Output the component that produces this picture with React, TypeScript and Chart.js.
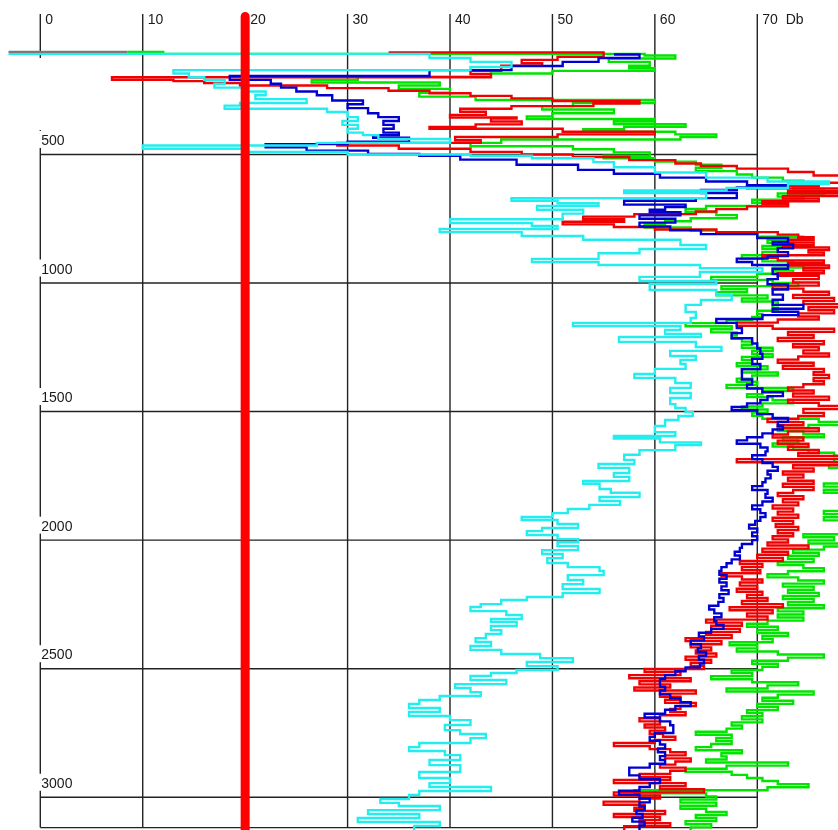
import React, { useEffect, useRef } from "react";
import { Chart, registerables } from "chart.js";

Chart.register(...registerables);

// Axis ticks and labels
const xTicks = [0, 10, 20, 30, 40, 50, 60, 70];
const xTickLabels = ["0", "10", "20", "30", "40", "50", "60", "70  Db"];
const depthTicks = [500, 1000, 1500, 2000, 2500, 3000];
const depthTickLabels = ["500", "1000", "1500", "2000", "2500", "3000"];
const depthBottom = 3118;
const gridTopDepth = -46;
const axisGapDepths = [125, 405];

// Threshold line at 20 Db
const thresholdDb = [20, 20];
const thresholdDepth = [-37, 3300];

// Common start row
const startDb = [-3.1, 8.5];
const startDepth = [101, 101];

// Cyan series
const cyanDepth = [109,109,125,140,160,172,185,200,210,225,240,255,270,285,300,310,322,335,355,370,385,400,415,425,440,455,465,478,490,500,505,515,530,550,570,590,605,615,630,640,650,670,680,690,700,715,730,752,767,778,790,802,817,832,852,868,884,906,918,930,942,957,976,992,1004,1027,1047,1066,1085,1113,1136,1155,1167,1183,1198,1210,1229,1249,1264,1284,1299,1315,1334,1354,1369,1389,1408,1428,1447,1471,1486,1502,1517,1533,1556,1580,1595,1605,1620,1630,1650,1668,1688,1704,1719,1739,1754,1770,1781,1801,1816,1832,1848,1863,1879,1895,1910,1922,1937,1953,1965,1980,1996,2008,2023,2039,2054,2070,2089,2105,2120,2136,2155,2171,2190,2206,2221,2233,2249,2260,2276,2291,2307,2318,2334,2350,2365,2381,2396,2412,2427,2443,2459,2474,2490,2505,2517,2528,2544,2560,2575,2591,2606,2622,2637,2653,2668,2684,2700,2719,2739,2754,2770,2789,2805,2820,2836,2855,2875,2902,2925,2945,2960,2976,2991,3007,3022,3034,3050,3065,3081,3096,3112,3135];
const cyanDb = [-3.1,38,42,46,42,13,14.5,16,18,17,20,22,21,26,19.5,18,28,30,31,29.5,31,30,31.5,33,40,27,10,20,30,42,48,54,56,60,65,71,77,73,67,57,65,46,50.5,54.5,48.5,53,51,40,48,50.5,39,47,53,62.5,65,58.5,54.5,48,54.5,64.4,70.5,64.4,58.5,66,59.5,66,67.5,64.5,63,64,63.5,52,62.5,61,64.5,56.5,64,66.5,61.5,64,62.5,63,60,58,62,63.5,61.5,63.5,61.5,62,63,63.7,62.3,61,60,62,56,60.5,64.5,62,58.5,57,58,54.5,57.5,56,57.5,53,54.6,55.7,58.5,54.6,56.6,53.6,51.5,50,47,50.5,52.5,49,47.5,50.5,52.5,50.5,52.5,49,51,49.5,51.5,54.6,55,51.5,53,51,54.6,51,47.5,45,43,42,45.5,47,44,46.5,44,45,43.5,42.5,44,42,45,48.8,52,47.5,50.5,46.5,44,42,45.5,40.5,42,43,39,37,36,39,36,40,42,39.5,41,43.5,42,37,36,39.5,41,38,41,37,40,38,44,37,36,33.2,35,39,32,37,31,39,36.5,37];

// Blue series
const blueDepth = [111,111,125,140,156,172,195,210,225,240,255,270,290,305,320,340,355,370,385,400,415,425,435,450,460,472,485,498,505,520,540,560,575,590,605,620,628,638,650,670,680,695,705,715,725,737,750,765,780,795,810,825,840,850,865,880,895,905,918,930,945,965,985,1005,1025,1045,1065,1085,1100,1112,1125,1140,1155,1175,1195,1215,1235,1255,1275,1295,1315,1335,1355,1375,1395,1410,1425,1440,1455,1468,1482,1495,1510,1525,1540,1555,1570,1585,1600,1612,1625,1640,1655,1670,1685,1700,1715,1730,1745,1760,1775,1790,1805,1820,1835,1850,1865,1880,1895,1910,1925,1940,1955,1970,1985,2000,2015,2030,2045,2060,2075,2090,2105,2120,2135,2150,2165,2180,2195,2210,2225,2240,2255,2270,2285,2300,2315,2330,2345,2360,2375,2390,2405,2420,2435,2450,2465,2480,2495,2510,2525,2540,2555,2570,2585,2600,2615,2630,2645,2660,2675,2690,2705,2720,2735,2750,2765,2780,2795,2810,2825,2840,2855,2870,2885,2900,2915,2930,2945,2960,2975,2990,3005,3020,3035,3050,3065,3080,3095,3110,3135];
const blueDb = [56,58.5,54.5,51,46,38,18.5,22.5,23.5,25,27,28.5,31.5,30,32,33,35,33.5,34.5,33.5,35,32.5,36,30,22,26,32,37,41,46.5,52.5,56,60.5,65,69,73,68,64.5,68,64,57,63,61,59.5,62.5,58.5,62,58.5,61.5,64.5,70,73,71.5,73.5,72,73,71,68,69.5,73,71.5,72,71,73,71.5,72.5,71.5,74.5,71.5,74,70.5,66,68,68.5,67.5,69.5,70,70.3,70.5,69.5,70.3,68.5,68.5,69.5,69,70.5,72.5,71,70.3,69,67.5,70,71.5,73,72,72.5,71.5,70.5,69,68,70.3,71,70.8,69.5,70.5,71.5,72,71,71.3,70.8,70.5,69.5,71,70.8,71.5,70.5,69.5,70.3,70.8,70.3,69.8,69.2,70,69.5,70,69.5,68.5,68.3,67.8,68.3,67.5,67,66.5,66.3,67,66.3,67,66.5,67.2,66.3,66.7,66.2,65.3,65.8,66.5,65.8,66,66.7,65.5,64.3,64.8,63.5,64.5,64.2,65,64.3,64.8,64.4,63,62,61,60.5,60.5,61,60.5,61.5,62.5,63.5,62,61,59,60.5,61.5,61.8,61.8,60,59.5,60.5,61,60.3,61,60.5,61,59.5,57.5,57.5,58.5,60.5,59.5,58.5,56.5,58.5,59.5,58.5,59,58.2,58.8,57.8,59,58.5,58.5];

// Red series
const redDepth = [103,103,120,132,145,155,175,187,200,210,215,222,232,242,252,262,272,282,292,302,312,322,334,346,356,360,372,383,393,400,412,422,432,445,455,465,478,490,500,510,522,535,545,555,568,582,595,610,622,632,642,652,662,672,682,692,702,712,722,732,742,752,762,772,782,792,802,812,822,832,842,852,862,872,882,892,902,912,922,932,942,952,962,972,985,998,1010,1022,1034,1046,1058,1070,1082,1094,1106,1118,1130,1142,1154,1166,1178,1190,1202,1214,1226,1238,1250,1262,1274,1286,1298,1310,1322,1334,1346,1358,1370,1382,1394,1406,1418,1430,1442,1454,1466,1478,1490,1505,1517,1529,1541,1553,1565,1577,1589,1601,1613,1625,1637,1649,1661,1673,1685,1697,1709,1721,1733,1745,1757,1769,1781,1793,1805,1817,1829,1841,1853,1865,1877,1889,1901,1913,1925,1937,1949,1961,1973,1985,1997,2009,2021,2033,2045,2057,2069,2081,2093,2105,2117,2129,2141,2153,2165,2177,2189,2201,2213,2225,2237,2249,2261,2273,2285,2297,2309,2321,2333,2345,2357,2369,2381,2393,2405,2417,2429,2441,2453,2465,2477,2489,2501,2513,2525,2537,2549,2561,2573,2585,2597,2609,2621,2633,2645,2657,2669,2681,2693,2705,2717,2729,2741,2753,2765,2777,2789,2801,2813,2825,2837,2849,2861,2873,2885,2897,2909,2921,2933,2945,2957,2969,2981,2993,3005,3017,3029,3041,3053,3065,3077,3089,3101,3113,3135];
const redDb = [34,55,50.5,47,49,45,42,44,7,13,16,19.5,28,34,38,42,46,50,58.5,54,46,41,43.5,40,46.5,44,47,42.5,38,51,60,50.5,40.5,43,29,35,42,47,52,57.5,62,64.5,68,73,75.5,78.5,80,76,69,78,73,78.5,72.5,76,70.5,73,69,66,64,58,53,57,51,56,60,66,72,74,75.5,73,75.5,72.5,77,75,76.5,70.5,72,76.5,73,77,74.5,76.5,72,76,73.5,76,71.5,74.5,77,73.5,77.5,74.5,78,75,77.5,74,76,72,68,71.5,77.5,73,75.5,72,76.5,73.5,76,74.5,77,74,72,75.5,72.5,76.5,75.5,77,75.5,76.5,74.5,73,75.5,73.5,77,73,76,78,74.5,76.5,74,71,74.5,72,76,73,71.5,74.5,72,75,73,76,74,78,68,78,73.5,75.5,72.5,74.5,73,75.5,72.5,75.5,73.5,72,74.5,72.5,74,71.5,73.5,72,74,71.5,73.5,71.8,74,72,73.5,71.5,73,71,75,70.5,73,70,72.5,68.3,70.5,68.5,70.3,66.5,68.5,70.5,68.3,70,68,70.5,69,71,68.5,72.5,67.3,71.5,69,71,65,68.5,65.5,68.3,65,67.5,63,66.5,63.5,65.5,64,66,63,65.5,63.5,64.8,59,62.5,57.5,63.5,58.5,61.5,58,64,60.5,62.5,61,64,62.5,61.5,63,60.5,58.5,60.5,59,61,59.5,60.8,62,60,56,59.5,61.5,63,61,63.5,62,60.5,63,61.5,58.5,61.5,56,63,60.5,64.8,56,60.5,58.5,55,59,58,61,56,60.5,58.5,61.5,57,59];

// Green series
const greenDepth = [101,101,109,115,127,140,155,165,175,185,198,210,220,232,245,260,275,288,300,312,325,340,352,362,372,382,392,402,412,422,432,442,455,468,480,492,505,515,528,540,552,565,578,590,602,615,628,640,652,664,676,688,700,712,724,736,748,760,772,784,796,808,820,832,844,856,868,880,892,904,916,928,940,952,964,976,988,1000,1012,1024,1036,1048,1060,1072,1084,1096,1108,1120,1132,1144,1156,1168,1180,1192,1204,1216,1228,1240,1252,1264,1276,1288,1300,1312,1324,1336,1348,1360,1372,1384,1396,1408,1420,1432,1444,1456,1468,1480,1492,1504,1516,1528,1540,1552,1564,1576,1588,1600,1612,1624,1636,1648,1660,1672,1684,1696,1708,1720,1735,1750,1765,1780,1792,1804,1816,1830,1845,1860,1875,1887,1899,1911,1923,1935,1950,1965,1977,1989,2001,2013,2025,2037,2049,2061,2073,2085,2097,2109,2121,2133,2145,2157,2169,2181,2193,2205,2217,2229,2241,2253,2265,2277,2289,2301,2313,2325,2337,2349,2361,2373,2385,2397,2409,2421,2433,2445,2457,2469,2481,2493,2505,2517,2529,2541,2553,2565,2577,2589,2601,2613,2625,2637,2649,2661,2673,2685,2697,2709,2721,2733,2745,2757,2769,2781,2793,2805,2817,2829,2841,2853,2865,2877,2889,2901,2913,2925,2937,2949,2961,2973,2985,2997,3009,3021,3033,3045,3057,3069,3081,3093,3105,3117,3135];
const greenDb = [8.5,12,59,62,55.5,59.5,57.5,60,50,44,31,26.5,39,35,40,37,42.5,60,52,49,56,50,47.5,60,56,63,57,53,62,66,62.5,45,42,52,56,59.5,55,60,64,66.5,64,68,69.5,72.5,74.5,76,73.5,76.5,72,74.5,69.5,73,65,63,66,68,63.5,61,59,63.5,66,70,74.5,71,73.5,70.5,72,70.5,68.5,70.5,73.5,74.5,71.5,73.5,70,65.5,71.5,74,66.5,69,66,71,68.5,72,71.5,72,70,70.5,69.5,67,63,67.5,65.5,68,67.5,68.5,69.5,68.5,71.5,69.5,71.5,68.5,69.5,68,71,68.5,72,69.5,68,70,67,73.5,70.5,69,71.5,73.5,70.5,68.5,71,69.5,70.5,76,78.5,75,72,74.5,76.5,72.5,74,71.5,73.5,75,77.5,80,77.5,79.5,77,82,84,82,79,76.5,78,76.5,80,83,81,84,79,76.5,78.5,76.5,79,82,80,78,74.5,77.5,75,78.5,76.5,73.5,76,73,75.5,72,74.5,76.5,73,71,74,76.5,72.5,75.5,73,76,72.5,75.5,73,76.5,72,74.5,72,74.5,71,69,72,70,73,70.5,71.5,67.3,70,68,72,76.5,73,69.5,72,70.5,67.5,69.5,65.5,69.5,74,71,67,75.5,72,70.5,73.5,70,72,69,70.5,68.5,70.5,67.5,68.5,67,64,67.5,66,67.5,65.5,64,68.5,66.5,67,65,73,67,63,67.5,69,70.5,72,75,71,58,65,66,62.5,66,62.5,65,67,64,66,63,65.5,63.5,65];

const toPoints = (depths: number[], values: number[]) =>
  depths.map((d, i) => ({ x: values[i], y: d }));

const gridPlugin = {
  id: "depthGrid",
  beforeDatasetsDraw(chart: any) {
    const ctx = chart.ctx as CanvasRenderingContext2D;
    const xs = chart.scales.x;
    const ys = chart.scales.y;
    const px = (v: number) => xs.getPixelForValue(v);
    const py = (d: number) => ys.getPixelForValue(d);
    const line = (x1: number, y1: number, x2: number, y2: number) => {
      ctx.beginPath();
      ctx.moveTo(x1, y1);
      ctx.lineTo(x2, y2);
      ctx.stroke();
    };
    ctx.save();
    ctx.strokeStyle = "#222222";
    ctx.lineWidth = 1.4;
    const yTop = py(gridTopDepth);
    const yBot = py(depthBottom);
    xTicks.forEach((v) => {
      if (v === 0) return;
      line(px(v), yTop, px(v), yBot);
    });
    line(px(0), yTop, px(0), py(axisGapDepths[0]));
    line(px(0), py(axisGapDepths[1]), px(0), yBot);
    [...depthTicks, depthBottom].forEach((d) => {
      line(px(0), py(d), px(70), py(d));
    });
    ctx.font = '14px "Liberation Sans", Arial, sans-serif';
    ctx.textBaseline = "alphabetic";
    ctx.textAlign = "left";
    ctx.fillStyle = "#1a1a1a";
    xTicks.forEach((v, i) => {
      ctx.fillText(xTickLabels[i], px(v) + 5, yTop + 9.5);
    });
    depthTicks.forEach((d, i) => {
      const b = py(d) - 9.5;
      const w = ctx.measureText(depthTickLabels[i]).width;
      ctx.fillStyle = "#ffffff";
      ctx.fillRect(px(0) - 2, b - 14, w + 4, 17);
      ctx.fillStyle = "#1a1a1a";
      ctx.fillText(depthTickLabels[i], px(0) + 1, b);
    });
    ctx.restore();
  },
};

const lineSet = (label: string, depths: number[], values: number[], color: string, width = 2.4) => ({
  label,
  data: toPoints(depths, values),
  showLine: true,
  borderColor: color,
  backgroundColor: color,
  borderWidth: width,
  pointRadius: 0,
  pointHoverRadius: 0,
  stepped: "after" as const,
  fill: false,
  borderJoinStyle: "miter" as const,
});

export default function App() {
  const ref = useRef<HTMLCanvasElement | null>(null);
  useEffect(() => {
    if (!ref.current) return;
    const chart = new Chart(ref.current, {
      type: "scatter",
      data: {
        datasets: [
          {
            label: "threshold",
            data: toPoints(thresholdDepth, thresholdDb),
            showLine: true,
            borderColor: "#ff0000",
            borderWidth: 9,
            borderCapStyle: "round",
            pointRadius: 0,
            fill: false,
          } as any,
          lineSet("start", startDepth, startDb, "#7a7a7a"),
          lineSet("cyan", cyanDepth, cyanDb, "#22eef0"),
          lineSet("blue", blueDepth, blueDb, "#0000d0"),
          lineSet("red", redDepth, redDb, "#f00000"),
          lineSet("green", greenDepth, greenDb, "#00e400"),
        ],
      },
      options: {
        animation: false,
        responsive: false,
        devicePixelRatio: 1,
        layout: { padding: 0 },
        events: [],
        plugins: {
          legend: { display: false },
          tooltip: { enabled: false },
        },
        scales: {
          x: { type: "linear", min: -3.934, max: 77.88, display: false, bounds: "data" },
          y: { type: "linear", min: -100.7, max: 3127.4, reverse: true, display: false, bounds: "data" },
        },
      },
      plugins: [gridPlugin],
    } as any);
    return () => chart.destroy();
  }, []);
  return (
    <div style={{ position: "fixed", left: 0, top: 0, width: 838, height: 830, background: "#fff" }}>
      <canvas ref={ref} width={838} height={830} style={{ display: "block" }} />
    </div>
  );
}
